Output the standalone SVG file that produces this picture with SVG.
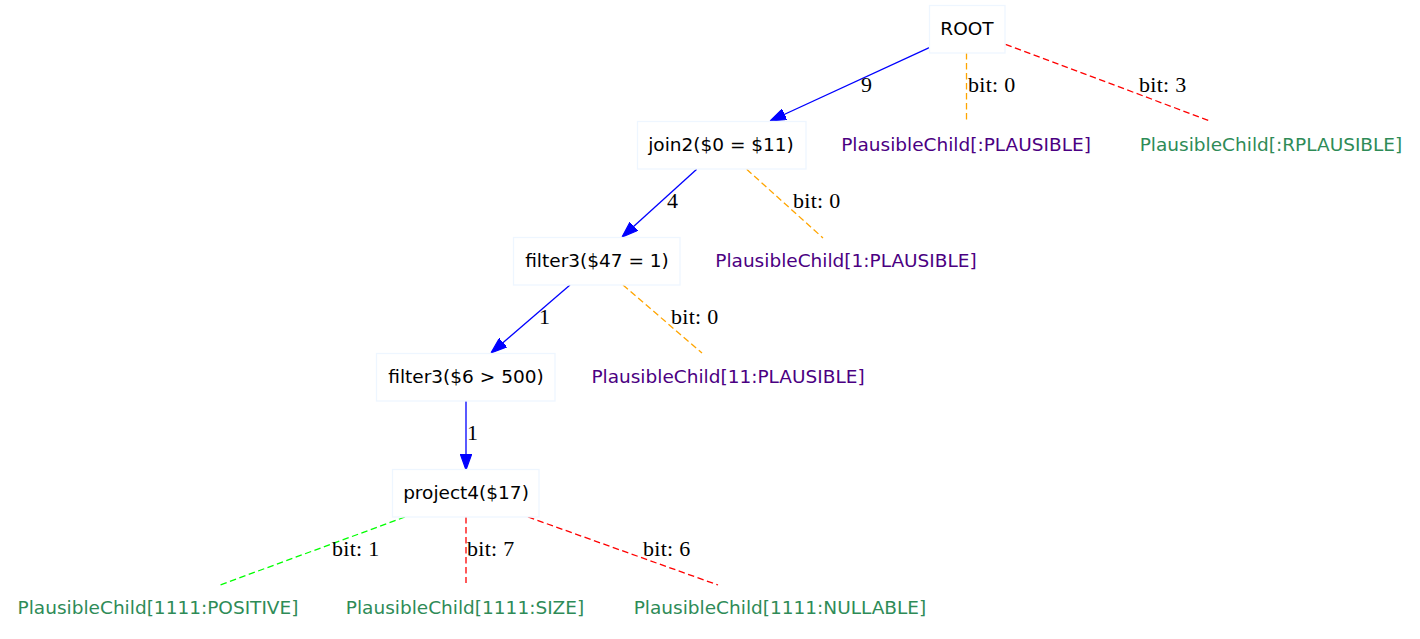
<svg xmlns="http://www.w3.org/2000/svg" width="1420" height="639" viewBox="0 0 1420 639">
<style>
.box{fill:#ffffff;stroke:#eef6ff;stroke-width:1.3}
.nt{font-family:"DejaVu Sans",sans-serif;font-size:18.5px;text-anchor:middle;fill:#000}
.pp{font-family:"DejaVu Sans",sans-serif;font-size:18.5px;text-anchor:middle;fill:#4b0082}
.pg{font-family:"DejaVu Sans",sans-serif;font-size:18.5px;text-anchor:middle;fill:#2e8b57}
.el{font-family:"Liberation Serif","Times New Roman",serif;font-size:22px;letter-spacing:0.3px;fill:#000}
.blue{stroke:#0000ff;stroke-width:1.3;fill:none}
.dash{stroke-width:1.3;fill:none;stroke-dasharray:6.5,3.5}
.or{stroke:#ffa500}
.rd{stroke:#ff0000}
.gr{stroke:#00ff00}
</style>
<defs>
<marker id="ah" markerUnits="userSpaceOnUse" markerWidth="16" markerHeight="12" refX="14" refY="5" orient="auto" viewBox="0 0 14 10">
<path d="M0,0 L14,5 L0,10 Z" fill="#0000ff" stroke="#0000ff" stroke-width="1"/>
</marker>
</defs>
<rect width="1420" height="639" fill="#ffffff"/>
<g id="connectors">
<line class="blue" x1="929.3" y1="47.7" x2="770" y2="121" marker-end="url(#ah)"/>
<text class="el" x="861" y="92">9</text>
<line class="dash or" x1="966.5" y1="53" x2="966.5" y2="120"/>
<text class="el" x="968" y="92">bit: 0</text>
<line class="dash rd" x1="1005.5" y1="44.3" x2="1210" y2="121"/>
<text class="el" x="1139" y="92">bit: 3</text>
<line class="blue" x1="696.7" y1="169.3" x2="622" y2="237" marker-end="url(#ah)"/>
<text class="el" x="667" y="208">4</text>
<line class="dash or" x1="746.7" y1="169.3" x2="823" y2="238"/>
<text class="el" x="793" y="208">bit: 0</text>
<line class="blue" x1="570" y1="285" x2="491" y2="353" marker-end="url(#ah)"/>
<text class="el" x="539" y="324">1</text>
<line class="dash or" x1="623" y1="285" x2="702" y2="353"/>
<text class="el" x="671" y="324">bit: 0</text>
<line class="blue" x1="466" y1="401" x2="466" y2="470" marker-end="url(#ah)"/>
<text class="el" x="467" y="440">1</text>
<line class="dash gr" x1="405" y1="517" x2="220" y2="585"/>
<text class="el" x="332" y="556">bit: 1</text>
<line class="dash rd" x1="466" y1="517" x2="466" y2="583"/>
<text class="el" x="467" y="556">bit: 7</text>
<line class="dash rd" x1="528" y1="517" x2="718" y2="585"/>
<text class="el" x="643" y="556">bit: 6</text>
</g>
<g id="root"><rect class="box" x="929.5" y="5.5" width="75.5" height="47.5"/><text class="nt" x="967" y="34.5">ROOT</text></g>
<g id="join2"><rect class="box" x="637.5" y="121.5" width="168.5" height="47.5"/><text class="nt" x="721" y="150.5">join2($0 = $11)</text></g>
<g id="pc_plausible"><text class="pp" x="966" y="150.5">PlausibleChild[:PLAUSIBLE]</text></g>
<g id="pc_rplausible"><text class="pg" x="1271" y="150.5">PlausibleChild[:RPLAUSIBLE]</text></g>
<g id="filter3a"><rect class="box" x="513.5" y="237.5" width="166.5" height="47.5"/><text class="nt" x="597" y="266.5">filter3($47 = 1)</text></g>
<g id="pc_1_plausible"><text class="pp" x="846" y="266.5">PlausibleChild[1:PLAUSIBLE]</text></g>
<g id="filter3b"><rect class="box" x="376.5" y="353.5" width="178.5" height="47.5"/><text class="nt" x="466" y="382.5">filter3($6 &gt; 500)</text></g>
<g id="pc_11_plausible"><text class="pp" x="728" y="382.5">PlausibleChild[11:PLAUSIBLE]</text></g>
<g id="project4"><rect class="box" x="392.5" y="469.5" width="146.5" height="47.5"/><text class="nt" x="466" y="498.5">project4($17)</text></g>
<g id="pc_positive"><text class="pg" x="158" y="614">PlausibleChild[1111:POSITIVE]</text></g>
<g id="pc_size"><text class="pg" x="465" y="614">PlausibleChild[1111:SIZE]</text></g>
<g id="pc_nullable"><text class="pg" x="780" y="614">PlausibleChild[1111:NULLABLE]</text></g>
</svg>
